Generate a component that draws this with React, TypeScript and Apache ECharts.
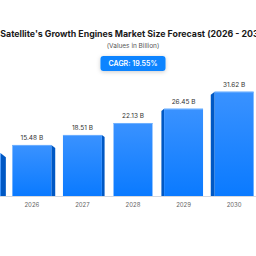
import React, { useEffect, useRef } from "react";
import * as echarts from "echarts";

const years = ["2025", "2026", "2027", "2028", "2029", "2030", "2031"];
const values = [12.95, 15.48, 18.51, 22.13, 26.45, 31.62, 37.8];
const titleText = "Satellite's Growth Engines Market Size Forecast (2026 - 2031)";
const subtitleText = "(Values in Billion)";
const cagrText = "CAGR: 19.55%";

const W = 354;
const H = 256;

export default function App() {
  const ref = useRef<HTMLDivElement>(null);
  useEffect(() => {
    document.body.style.margin = "0";
    document.body.style.overflow = "hidden";
    const chart = echarts.init(ref.current!, null, { renderer: "svg" });
    const center = (years.length - 1) / 2;
    chart.setOption({
      animation: false,
      backgroundColor: "#ffffff",
      textStyle: { fontFamily: "Inter" },
      title: {
        text: titleText,
        subtext: subtitleText,
        left: "center",
        top: 24,
        itemGap: 4,
        textStyle: { fontSize: 8.8, fontWeight: "bold", color: "#1a1a1a", fontFamily: "Inter" },
        subtextStyle: { fontSize: 6.5, color: "#555", fontFamily: "Inter" },
      },
      graphic: [
        {
          type: "group",
          left: "center",
          top: 56,
          children: [
            {
              type: "rect",
              shape: { x: 0, y: 0, width: 65, height: 15, r: 3 },
              style: {
                fill: "#0a84ff",
                shadowBlur: 4,
                shadowColor: "rgba(0,0,0,0.2)",
                shadowOffsetY: 1,
              },
            },
            {
              type: "text",
              x: 32.5,
              y: 7.5,
              style: {
                text: cagrText,
                fill: "#fff",
                fontSize: 7,
                fontWeight: 600,
                fontFamily: "Inter",
                align: "center",
                verticalAlign: "middle",
              },
            },
          ],
        },
      ],
      grid: { left: 0, right: 0, top: 64, bottom: 60 },
      xAxis: {
        type: "category",
        data: years,
        axisLine: { lineStyle: { color: "#d5d9e0", width: 1 } },
        axisTick: { show: false },
        axisLabel: { fontSize: 6, color: "#666", margin: 5, fontFamily: "Inter" },
      },
      yAxis: {
        type: "value",
        min: 0,
        max: 40,
        show: false,
        splitLine: { show: false },
      },
      series: [
        {
          type: "custom",
          data: values.map((v, i) => [i, v]),
          renderItem: (params: any, api: any) => {
            const i = api.value(0);
            const v = api.value(1);
            const top = api.coord([i, v]);
            const base = api.coord([i, 0]);
            const band = api.size([1, 0])[0];
            const w = band * 0.77;
            const x0 = top[0] - w / 2;
            const x1 = top[0] + w / 2;
            const off = i - center;
            const s = off === 0 ? 0 : 1.5 + Math.abs(off) * 1.2;
            const children: any[] = [];
            if (off < 0) {
              children.push({
                type: "polygon",
                shape: {
                  points: [
                    [x1, top[1]],
                    [x1 + s, top[1] + s * 0.8],
                    [x1 + s, base[1]],
                    [x1, base[1]],
                  ],
                },
                style: { fill: "#0058c4" },
              });
            } else if (off > 0) {
              children.push({
                type: "polygon",
                shape: {
                  points: [
                    [x0, top[1]],
                    [x0 - s, top[1] + s * 0.8],
                    [x0 - s, base[1]],
                    [x0, base[1]],
                  ],
                },
                style: { fill: "#0058c4" },
              });
            }
            children.push({
              type: "rect",
              shape: { x: x0, y: top[1], width: w, height: base[1] - top[1] },
              style: {
                fill: new echarts.graphic.LinearGradient(0, 0, 0, 1, [
                  { offset: 0, color: "#3a92ff" },
                  { offset: 1, color: "#0a7aff" },
                ]),
              },
            });
            children.push({
              type: "line",
              shape: { x1: x0, y1: top[1] + 0.5, x2: x1, y2: top[1] + 0.5 },
              style: { stroke: "#6fb0ff", lineWidth: 1 },
            });
            children.push({
              type: "text",
              x: top[0],
              y: top[1] - 3,
              style: {
                text: v.toFixed(2) + " B",
                fill: "#333",
                fontSize: 6.5,
                fontFamily: "Inter",
                align: "center",
                verticalAlign: "bottom",
              },
            });
            return { type: "group", children };
          },
        },
      ],
    });
    return () => chart.dispose();
  }, []);
  return (
    <div
      ref={ref}
      style={{ position: "fixed", left: -44, top: 0, width: W, height: H }}
    />
  );
}
